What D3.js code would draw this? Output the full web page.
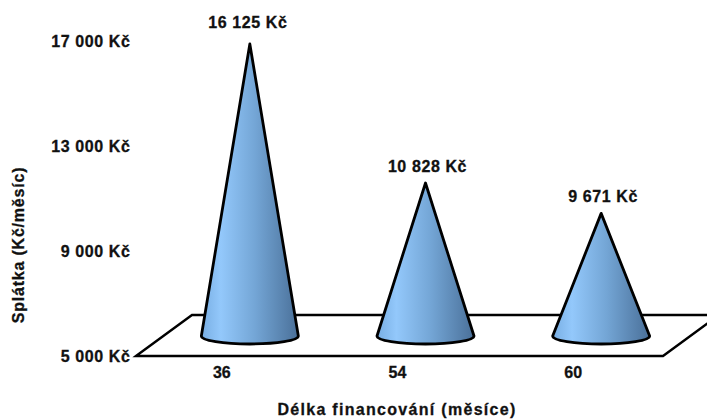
<!DOCTYPE html>
<html>
<head>
<meta charset="utf-8">
<script src="https://cdn.jsdelivr.net/npm/d3@7"></script>
<style>
html,body{margin:0;padding:0;background:#fff;overflow:hidden}
text{font-family:"Liberation Sans",Arial,sans-serif;font-weight:bold;fill:#111;stroke:#111;stroke-width:.3px}
</style>
</head>
<body>
<svg id="chart" width="707" height="419"></svg>
<script>
const categories = ["36", "54", "60"];
const payments = [16125, 10828, 9671];
const paymentLabels = ["16 125 Kč", "10 828 Kč", "9 671 Kč"];
const tickValues = [5000, 9000, 13000, 17000];
const tickLabels = ["5 000 Kč", "9 000 Kč", "13 000 Kč", "17 000 Kč"];
const xTitle = "Délka financování (měsíce)";
const yTitle = "Splátka (Kč/měsíc)";

const svg = d3.select("#chart");
const fontSize = 16;
const labelSpacing = "0.6px";

// Front edge of the floor carries the axes; the cones stand further back.
const x = d3.scaleBand().domain(categories).range([136, 663]);
const y = d3.scaleLinear().domain([5000, 17000]).range([357, 42]);
const depthX = 56, depthY = -41;
const coneDx = 26, coneDy = -21;
const coneRx = 48.5, coneRy = 8;

const gradient = svg.append("defs").append("linearGradient")
  .attr("id", "coneFill").attr("x1", 0).attr("x2", 1).attr("y1", 0).attr("y2", 0);
[[0, "#78aee3"], [0.2, "#93c8fb"], [0.55, "#74a6d6"], [1, "#4a7099"]].forEach(([o, c]) =>
  gradient.append("stop").attr("offset", o).attr("stop-color", c));

// Floor parallelogram, running off the right edge of the canvas
const floorLeft = x.range()[0], floorRight = x.range()[1], floorY = y(5000) - 1;
svg.append("path")
  .attr("d", d3.line()([
    [floorLeft, floorY], [floorLeft + depthX, floorY + depthY],
    [floorRight + depthX, floorY + depthY], [floorRight, floorY]
  ]) + "Z")
  .attr("fill", "#fff").attr("stroke", "#000").attr("stroke-width", 2.4);

// Cones
svg.selectAll("path.cone").data(categories).join("path")
  .attr("class", "cone")
  .attr("d", (c, i) => {
    const cx = x(c) + x.bandwidth() / 2 + coneDx;
    const base = y(5000) + coneDy;
    const apex = y(payments[i]) + coneDy;
    return `M${cx},${apex}L${cx + coneRx},${base}` +
      `A${coneRx},${coneRy} 0 0 1 ${cx - coneRx},${base}Z`;
  })
  .attr("fill", "url(#coneFill)")
  .attr("stroke", "#000").attr("stroke-width", 2.8).attr("stroke-linejoin", "round");

// Value labels above the apexes; the tallest one sits higher and a little to the left
svg.selectAll("text.value").data(categories).join("text")
  .attr("class", "value")
  .attr("x", (c, i) => x(c) + x.bandwidth() / 2 + coneDx + (i === 0 ? -2 : 2))
  .attr("y", (c, i) => y(payments[i]) + coneDy - (i === 0 ? 16 : 11.5))
  .attr("text-anchor", "middle").attr("font-size", fontSize)
  .attr("letter-spacing", labelSpacing)
  .text((c, i) => paymentLabels[i]);

// Value axis labels
svg.selectAll("text.tick").data(tickValues).join("text")
  .attr("class", "tick")
  .attr("x", 130.5).attr("y", d => y(d) + 5)
  .attr("text-anchor", "end").attr("font-size", fontSize)
  .attr("letter-spacing", labelSpacing)
  .text((d, i) => tickLabels[i]);

// Category axis labels
svg.selectAll("text.cat").data(categories).join("text")
  .attr("class", "cat")
  .attr("x", c => x(c) + x.bandwidth() / 2 - 2)
  .attr("y", 378)
  .attr("text-anchor", "middle").attr("font-size", fontSize)
  .text(c => c);

// Axis titles
svg.append("text").attr("x", 397).attr("y", 415)
  .attr("text-anchor", "middle").attr("font-size", fontSize)
  .attr("letter-spacing", "1.3px").text(xTitle);
svg.append("text")
  .attr("transform", "translate(24,245) rotate(-90)")
  .attr("text-anchor", "middle").attr("font-size", fontSize)
  .attr("letter-spacing", "0.8px").text(yTitle);
</script>
</body>
</html>
